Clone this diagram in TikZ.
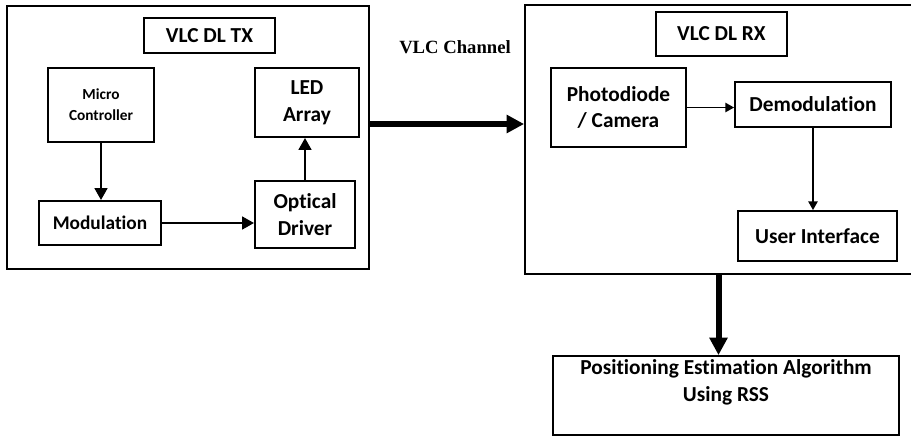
\documentclass[tikz,border=0pt]{standalone}
\usepackage{fontspec}
\setsansfont{Carlito}[Ligatures=NoCommon]
\newfontfamily\chanfont{Liberation Serif}
\usetikzlibrary{positioning, arrows.meta, calc}

\begin{document}
\begin{tikzpicture}[
  x=0.75pt, y=-0.75pt,
  blk/.style={draw, line width=1.4pt, rectangle, inner sep=0pt, align=center,
    font=\sffamily\bfseries\fontsize{16}{20}\selectfont},
  sz/.style 2 args={minimum width=#1*0.75pt, minimum height=#2*0.75pt},
  flow/.style={-{Triangle[length=9pt, width=9.5pt]}, line width=2pt},
  thin/.style={-{Triangle[length=6.5pt, width=7pt]}, line width=1pt},
  fat/.style={-{Triangle[length=13pt, width=13pt]}, line width=4.5pt}
]
  \useasboundingbox (0,0) rectangle (911,437);

  % 1. Transmitter side
  \node[blk, sz={362}{263}] (tx) at (188,137.5) {};
  \node[blk, sz={131}{35}] (txlbl) at (209.5,35.5) {VLC DL TX};
  \node[blk, sz={106}{74}, font=\sffamily\bfseries\fontsize{11.5}{15.5}\selectfont] (mc) at (101,105) {Micro\\Controller};
  \node[blk, sz={104}{69}] (led) at (307,102.5) {LED\\Array};
  \node[blk, sz={122}{44}, font=\sffamily\bfseries\fontsize{14.5}{18}\selectfont] (mod) at (100,223) {Modulation};
  \node[blk, sz={100}{67}] (od) at (305,214.5) {Optical\\Driver};

  \draw[flow] (mc.south) -- (mc.south |- mod.north);
  \draw[flow] (mod.east) -- (mod.east -| od.west);
  \draw[flow] (od.north) -- (od.north |- led.south);

  % 2. Receiver side
  \node[blk, sz={387}{269}] (rx) at (718.5,139.5) {};
  \node[blk, sz={131}{44}] (rxlbl) at (721.5,34) {VLC DL RX};
  \node[blk, sz={135}{79}] (pd) at (618.5,107.5) {Photodiode\\/ Camera};
  \node[blk, sz={156}{45}] (dm) at (813,104.5) {Demodulation};
  \node[blk, sz={159}{50}] (ui) at (817.5,236) {User Interface};

  \draw[thin] (pd.east) -- (pd.east -| dm.west);
  \draw[thin] (dm.south) -- (dm.south |- ui.north);

  % 3. Channel between both sides
  \node[font=\chanfont\bfseries\fontsize{14}{16}\selectfont] (chlbl) at (455,47) {VLC Channel};
  \coordinate (ch) at (450,124);
  \draw[fat] (ch -| tx.east) -- (ch -| rx.west);

  % 4. Positioning block
  \node[blk, sz={346}{79}] (pos) at (726,395.5) {};
  \node[blk, draw=none, below=3pt of pos.north] (postxt) {Positioning Estimation Algorithm\\Using RSS};
  \draw[fat] (rx.south) -- (rx.south |- pos.north);

\end{tikzpicture}
\end{document}
